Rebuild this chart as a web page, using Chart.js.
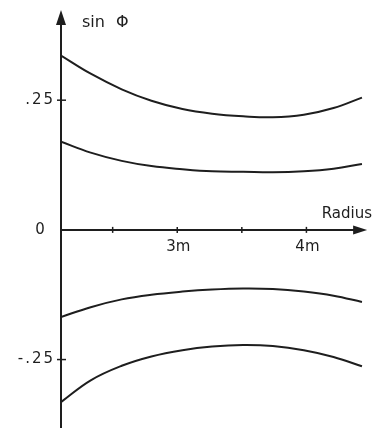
<!DOCTYPE html>
<html>
<head>
<meta charset="utf-8">
<script src="https://cdn.jsdelivr.net/npm/chart.js@4/dist/chart.umd.min.js"></script>
<style>
  body { margin: 0; background: #fff; }
</style>
</head>
<body>
<canvas id="sinChart" width="375" height="428"></canvas>
<script>
// radius in metres, sin(phi) for the four curves
const radius = [2.1, 2.33, 2.57, 2.8, 3.04, 3.27, 3.51, 3.74, 3.98, 4.21, 4.43];
const upperOuter = [0.336, 0.301, 0.271, 0.249, 0.233, 0.224, 0.219, 0.217, 0.222, 0.235, 0.255];
const upperInner = [0.170, 0.149, 0.133, 0.123, 0.117, 0.113, 0.112, 0.111, 0.113, 0.118, 0.127];
const lowerInner = [-0.168, -0.149, -0.134, -0.125, -0.119, -0.115, -0.113, -0.114, -0.119, -0.127, -0.139];
const lowerOuter = [-0.332, -0.290, -0.262, -0.244, -0.232, -0.225, -0.222, -0.224, -0.232, -0.245, -0.263];

const xTicks = [2.5, 3, 3.5, 4];
const xTickLabels = ['', '3m', '', '4m'];
const yTicks = [0.25, -0.25];
const yTickLabels = ['.25', '-.25'];

const ink = '#1e1e1e';

function toPoints(values) {
    return values.map((v, i) => ({ x: radius[i], y: v }));
}

function curve(values) {
    return {
        data: toPoints(values),
        showLine: true,
        borderColor: ink,
        borderWidth: 2,
        pointRadius: 0,
        tension: 0.4,
        fill: false
    };
}

const axesPlugin = {
    id: 'axes',
    afterDraw(chart) {
        let ctx = chart.ctx;
        let xs = chart.scales.x, ys = chart.scales.y;
        let area = chart.chartArea;
        let x0 = xs.getPixelForValue(xs.min);
        let y0 = ys.getPixelForValue(0);
        let yTop = area.top - 2;
        let xTip = xs.getPixelForValue(4.47);

        ctx.save();
        ctx.strokeStyle = ink;
        ctx.fillStyle = ink;
        ctx.lineWidth = 2;

        // y axis with arrow
        ctx.beginPath();
        ctx.moveTo(x0, chart.height);
        ctx.lineTo(x0, yTop + 10);
        ctx.stroke();
        ctx.beginPath();
        ctx.moveTo(x0, yTop);
        ctx.lineTo(x0 - 5, yTop + 15);
        ctx.lineTo(x0 + 5, yTop + 15);
        ctx.closePath();
        ctx.fill();

        // x axis with arrow
        ctx.beginPath();
        ctx.moveTo(x0, y0);
        ctx.lineTo(xTip - 8, y0);
        ctx.stroke();
        ctx.beginPath();
        ctx.moveTo(xTip, y0);
        ctx.lineTo(xTip - 14, y0 - 4.5);
        ctx.lineTo(xTip - 14, y0 + 4.5);
        ctx.closePath();
        ctx.fill();

        ctx.lineWidth = 1.5;
        ctx.font = '15px "DejaVu Sans"';
        ctx.textBaseline = 'middle';

        xTicks.forEach((t, i) => {
            let px = xs.getPixelForValue(t);
            ctx.beginPath();
            ctx.moveTo(px, y0 - 3);
            ctx.lineTo(px, y0 + 3);
            ctx.stroke();
            if (xTickLabels[i]) {
                ctx.textAlign = 'center';
                ctx.fillText(xTickLabels[i], px + 1, y0 + 17);
            }
        });

        ctx.letterSpacing = '2px';
        yTicks.forEach((t, i) => {
            let py = ys.getPixelForValue(t);
            ctx.beginPath();
            ctx.moveTo(x0 - 4, py);
            ctx.lineTo(x0 + 5, py);
            ctx.stroke();
            ctx.textAlign = 'right';
            ctx.fillText(yTickLabels[i], x0 - 6, py);
        });
        ctx.letterSpacing = '0px';

        ctx.textAlign = 'center';
        ctx.fillText('0', x0 - 21, y0);

        ctx.textAlign = 'right';
        ctx.fillText('Radius', chart.width - 3, y0 - 16);

        ctx.font = '16px "DejaVu Sans"';
        ctx.textAlign = 'left';
        ctx.fillText('sin', x0 + 21, yTop + 13);
        ctx.fillText('\u03A6', x0 + 55, yTop + 13);
        ctx.restore();
    }
};

new Chart(document.getElementById('sinChart'), {
    type: 'scatter',
    data: {
        datasets: [curve(upperOuter), curve(upperInner), curve(lowerInner), curve(lowerOuter)]
    },
    options: {
        responsive: false,
        animation: false,
        layout: { padding: { left: 61, right: 4, top: 12, bottom: 1 } },
        plugins: { legend: { display: false }, tooltip: { enabled: false } },
        scales: {
            x: { type: 'linear', min: 2.1, max: 4.5, display: false },
            y: { type: 'linear', min: -0.38, max: 0.42, display: false }
        }
    },
    plugins: [axesPlugin]
});
</script>
</body>
</html>
